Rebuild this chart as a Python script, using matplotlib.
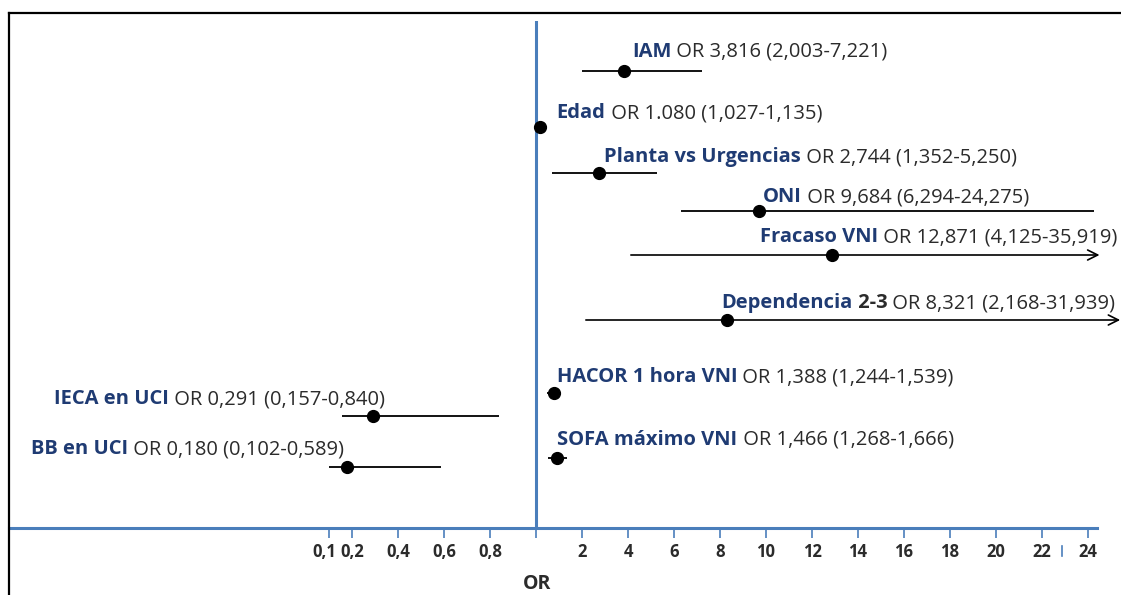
import numpy as np
import matplotlib.pyplot as plt
import matplotlib.transforms as mtransforms
from matplotlib.lines import Line2D

plt.rcParams['font.family'] = ['Open Sans', 'DejaVu Sans']

# data
names = ["IAM", "Edad", "Planta vs Urgencias", "ONI", "Fracaso VNI",
         "Dependencia", "HACOR 1 hora VNI", "IECA en UCI", "SOFA máximo VNI", "BB en UCI"]
name_extra = ["", "", "", "", "", " 2-3", "", "", "", ""]
odds = [3.816, 1.080, 2.744, 9.684, 12.871, 8.321, 1.388, 0.291, 1.466, 0.180]
ci_low = [2.003, 1.027, 1.352, 6.294, 4.125, 2.168, 1.244, 0.157, 1.268, 0.102]
ci_high = [7.221, 1.135, 5.250, 24.275, 35.919, 31.939, 1.539, 0.840, 1.666, 0.589]
left_ticks = [0.1, 0.2, 0.4, 0.6, 0.8]
right_ticks = [2, 4, 6, 8, 10, 12, 14, 16, 18, 20, 22, 24]

# layout (y in pixels from the top of the figure)
row_y = [71, 127, 173, 211, 255, 320, 393, 416, 458, 467]
label_dx = [8, 17, 5, 4, -72, -6, 3, 12, 0, -3]
label_dy = [14, 9, 11, 8.5, 12.5, 12, 11, 12, 13, 13]
label_right = [False] * 7 + [True, False, True]
arrow_end = {4: 24.5, 5: 25.4}

BLUE = "#4a7ebb"
NAVY = "#1f3b73"
DARK = "#2b2b2b"
W, H = 1121, 595


def fmt(v):
    return f"{v:.3f}".replace(".", ",")


or_text = [fmt(v) for v in odds]
or_text[1] = f"{odds[1]:.3f}"  # the original writes this one with a point


# OR < 1 is stretched x10, 1..2 squeezed into 0..2, above 2 linear
def fwd(v):
    v = np.asarray(v, float)
    return np.where(v < 1, 10 * (v - 1), np.where(v < 2, 2 * (v - 1), v))


def inv(u):
    u = np.asarray(u, float)
    return np.where(u < 0, 1 + u / 10, np.where(u < 2, 1 + u / 2, u))


fig = plt.figure(figsize=(W / 100, H / 100), dpi=100)
ax = fig.add_axes([9 / W, 1 - 528 / H, (1097 - 9) / W, (528 - 21) / H])
ax.set_xscale('function', functions=(fwd, inv))
ax.set_xlim(float(inv(-(536 - 9) / 23)), float(inv((1097 - 536) / 23)))
ax.set_ylim(528, 21)

for s in ['top', 'right', 'left']:
    ax.spines[s].set_visible(False)
ax.spines['bottom'].set_color(BLUE)
ax.spines['bottom'].set_linewidth(2.2)
ax.set_yticks([])

ax.axvline(1, color=BLUE, lw=2.2, zorder=1)

ticks = left_ticks + [1] + right_ticks
tick_labels = [fmt(t)[:3] for t in left_ticks] + [""] + [str(t) for t in right_ticks]
ax.set_xticks(ticks)
ax.set_xticklabels(tick_labels, fontsize=12, fontweight='bold', color=DARK)
ax.tick_params(axis='x', direction='out', length=7.5, width=1.2, color=BLUE, pad=3)
ax.xaxis.set_minor_locator(plt.NullLocator())
# "0,1" sits a little further left in the original
lab01 = ax.get_xticklabels()[0]
lab01.set_transform(lab01.get_transform() +
                    mtransforms.ScaledTranslation(-5 / 100, 0, fig.dpi_scale_trans))

ax.set_xlabel("OR", fontsize=14, fontweight='bold', color=DARK)
ax.xaxis.set_label_coords((537 - 9) / 1088, -(574 - 528) / 507)

# stray axis mark in the original
ax.plot([22.85, 22.85], [546, 556], color=BLUE, lw=1.2, clip_on=False)

# confidence intervals
for i in range(len(names)):
    if i in arrow_end:
        ax.annotate("", xy=(arrow_end[i], row_y[i]), xytext=(ci_low[i], row_y[i]),
                    arrowprops=dict(arrowstyle="->", color="black", lw=1.2,
                                    mutation_scale=18, shrinkA=0, shrinkB=0),
                    annotation_clip=False)
    else:
        ax.plot([ci_low[i], ci_high[i]], [row_y[i], row_y[i]], color="black", lw=1.3,
                solid_capstyle='butt', clip_on=False)

ax.plot(odds, row_y, 'o', color="black", ms=8.5, zorder=3, clip_on=False)

# labels
fs = 14.5
for i in range(len(names)):
    rest = " OR " + or_text[i] + " (" + fmt(ci_low[i]) + "-" + fmt(ci_high[i]) + ")"
    if label_right[i]:
        t = ax.annotate(rest, xy=(odds[i], row_y[i]), xytext=(label_dx[i], label_dy[i]),
                        textcoords='offset pixels', ha='right', va='baseline',
                        fontsize=fs, color=DARK, annotation_clip=False)
        ax.annotate(names[i], xy=(0, 0), xycoords=t, ha='right', va='bottom',
                    fontsize=fs, fontweight='bold', color=NAVY)
    else:
        t = ax.annotate(names[i], xy=(odds[i], row_y[i]), xytext=(label_dx[i], label_dy[i]),
                        textcoords='offset pixels', ha='left', va='baseline',
                        fontsize=fs, fontweight='bold', color=NAVY, annotation_clip=False)
        if name_extra[i]:
            t = ax.annotate(name_extra[i], xy=(1, 0), xycoords=t, ha='left', va='bottom',
                            fontsize=fs, fontweight='bold', color=DARK)
        ax.annotate(rest, xy=(1, 0), xycoords=t, ha='left', va='bottom',
                    fontsize=fs, color=DARK)

# frame of the original picture (left and top edges only are visible)
fig.add_artist(Line2D([9 / W, 9 / W], [0, 1 - 13 / H], transform=fig.transFigure,
                      color="black", lw=1.6))
fig.add_artist(Line2D([9 / W, 1], [1 - 13 / H, 1 - 13 / H], transform=fig.transFigure,
                      color="black", lw=1.6))

fig.savefig("out.png", dpi=100)
